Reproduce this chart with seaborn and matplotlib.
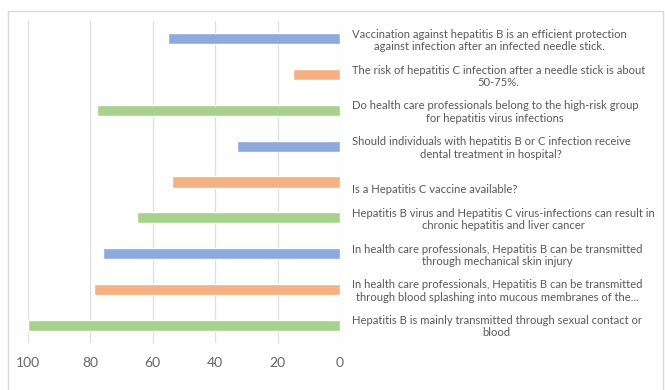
import matplotlib
matplotlib.use("Agg")
import matplotlib.pyplot as plt
from matplotlib.patches import Rectangle
import seaborn as sns
import pandas as pd

statements = [
    "Vaccination against hepatitis B is an efficient protection\nagainst infection after an infected needle stick.",
    "The risk of hepatitis C infection after a needle stick is about\n50-75%.",
    "Do health care professionals belong to the high-risk group\nfor hepatitis virus infections",
    "Should individuals with hepatitis B or C infection receive\ndental treatment in hospital?",
    "Is a Hepatitis C vaccine available?",
    "Hepatitis B virus and Hepatitis C virus-infections can result in\nchronic hepatitis and liver cancer",
    "In health care professionals, Hepatitis B can be transmitted\nthrough mechanical skin injury",
    "In health care professionals, Hepatitis B can be transmitted\nthrough blood splashing into mucous membranes of the...",
    "Hepatitis B is mainly transmitted through sexual contact or\nblood",
]
percent_correct = [55, 15, 78, 33, 54, 65, 76, 79, 100]
x_ticks = [0, 20, 40, 60, 80, 100]

bar_colors = ["#8EA9DB", "#F4B183", "#A9D18E"]

sns.set_theme(style="white")
plt.rcParams["font.family"] = ["Lato", "DejaVu Sans"]

df = pd.DataFrame({"statement": statements, "value": percent_correct})
palette = {s: bar_colors[i % 3] for i, s in enumerate(statements)}

fig = plt.figure(figsize=(6.65, 3.90), dpi=100)
ax = fig.add_axes([28 / 665, 1 - 343 / 390, (340 - 28) / 665, (343 - 21) / 390])

sns.barplot(data=df, x="value", y="statement", hue="statement", palette=palette,
            order=statements, hue_order=statements, orient="h", width=0.31,
            legend=False, ax=ax, saturation=1)

ax.set_xlim(100, 0)
ax.set_xticks(x_ticks)
ax.set_xticklabels([str(t) for t in x_ticks])
ax.set_xlabel("")
ax.set_ylabel("")
ax.grid(axis="x", color="#DEDEDE", linewidth=0.9)
ax.set_axisbelow(True)
for s in ax.spines.values():
    s.set_visible(False)

ax.tick_params(axis="x", length=0, pad=10, labelsize=10, labelcolor="#666666")
ax.yaxis.tick_right()
ax.tick_params(axis="y", length=0, pad=8.5, labelsize=8.1, labelcolor="#595959")
ylabels = [("\n" + s if "\n" not in s else s) for s in statements]
ax.set_yticks(range(len(statements)))
ax.set_yticklabels(ylabels, ha="left", multialignment="center", linespacing=1.15)

fig.patches.append(Rectangle((8 / 665, -0.02), (663 - 8) / 665, 1.02 - 11 / 390,
                             transform=fig.transFigure, fill=False,
                             edgecolor="#D9D9D9", linewidth=1))

fig.savefig("out.png", dpi=100, facecolor="white")
